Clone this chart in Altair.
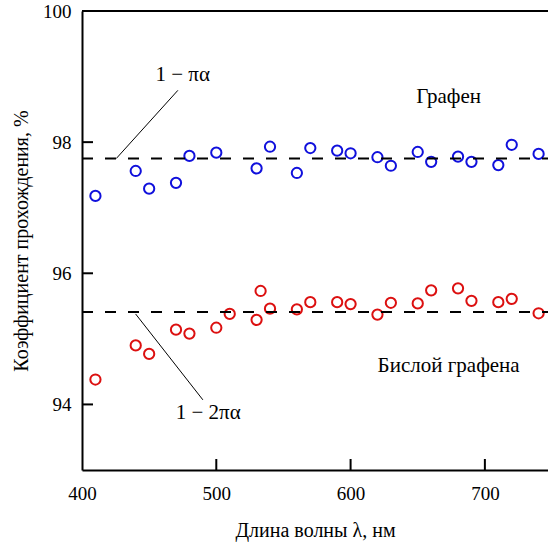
import altair as alt
import pandas as pd

# --- data ---
blue_x = [410, 440, 450, 470, 480, 500, 530, 540, 560, 570, 590, 600, 620, 630, 650, 660, 680, 690, 710, 720, 740]
blue_y = [97.18, 97.56, 97.29, 97.38, 97.79, 97.84, 97.60, 97.93, 97.53, 97.91, 97.87, 97.83, 97.77, 97.64,
          97.85, 97.70, 97.78, 97.70, 97.65, 97.96, 97.82]
red_x = [410, 440, 450, 470, 480, 500, 510, 530, 533, 540, 560, 570, 590, 600, 620, 630, 650, 660, 680, 690,
         710, 720, 740]
red_y = [94.38, 94.90, 94.77, 95.14, 95.08, 95.17, 95.38, 95.29, 95.73, 95.46, 95.45, 95.56, 95.56, 95.53,
         95.37, 95.55, 95.54, 95.74, 95.77, 95.58, 95.56, 95.61, 95.39]
ref_levels = [97.75, 95.41]  # 1 - pi*alpha, 1 - 2*pi*alpha (in %)

leader_x1 = [425.5, 439.9]
leader_y1 = [97.75, 95.38]
leader_x2 = [471.4, 490.0]
leader_y2 = [98.79, 94.07]

label_text = ["1 − πα", "1 − 2πα", "Графен", "Бислой графена"]
label_x = [475, 494, 673, 673]
label_y = [99.02, 93.87, 98.69, 94.59]

x_ticks = [400, 500, 600, 700]
y_ticks = [94, 96, 98, 100]
x_domain = [400, 747]
y_domain = [93, 100]

W, H = 466, 459
FONT = "Liberation Serif, Times New Roman, serif"
BLUE = "#1010dc"
RED = "#dc1010"

xs = alt.Scale(domain=x_domain, nice=False, zero=False)
ys = alt.Scale(domain=y_domain, nice=False, zero=False)

blue_df = pd.DataFrame({"x": blue_x, "y": blue_y})
red_df = pd.DataFrame({"x": red_x, "y": red_y})
lvl_df = pd.DataFrame({"y": ref_levels})
lead_df = pd.DataFrame({"x": leader_x1, "y": leader_y1, "x2": leader_x2, "y2": leader_y2})
lab_df = pd.DataFrame({"t": label_text, "x": label_x, "y": label_y})
xt_df = pd.DataFrame({"x": x_ticks[1:]})
yt_df = pd.DataFrame({"y": y_ticks[:-1]})
one_df = pd.DataFrame({"a": [0]})

x_enc = alt.X("x:Q", scale=xs, axis=alt.Axis(values=x_ticks, format="d", labelFlush=False,
                                             title="Длина волны λ, нм",
                                             labelPadding=14, titlePadding=17))
y_enc = alt.Y("y:Q", scale=ys, axis=alt.Axis(values=y_ticks, format="d", labelFlush=False,
                                             title="Коэффициент прохождения, %",
                                             labelPadding=11, titlePadding=11))

blue_pts = alt.Chart(blue_df).mark_point(shape="circle", filled=False, size=105, strokeWidth=2,
                                         color=BLUE, opacity=1).encode(x=x_enc, y=y_enc)
red_pts = alt.Chart(red_df).mark_point(shape="circle", filled=False, size=105, strokeWidth=2,
                                       color=RED, opacity=1).encode(x="x:Q", y="y:Q")

levels = alt.Chart(lvl_df).mark_rule(color="black", strokeWidth=2, strokeDash=[11, 12]).encode(
    y="y:Q", x=alt.value(0), x2=alt.value(W))

leaders = alt.Chart(lead_df).mark_rule(color="black", strokeWidth=1).encode(
    x="x:Q", y="y:Q", x2="x2:Q", y2="y2:Q")

labels = alt.Chart(lab_df).mark_text(font=FONT, fontSize=21, color="black", align="center",
                                     baseline="middle").encode(x="x:Q", y="y:Q", text="t:N")

xticks = alt.Chart(xt_df).mark_rule(color="black", strokeWidth=2).encode(
    x="x:Q", y=alt.value(H), y2=alt.value(H - 11))
yticks = alt.Chart(yt_df).mark_rule(color="black", strokeWidth=2).encode(
    y="y:Q", x=alt.value(0), x2=alt.value(11))
top = alt.Chart(one_df).mark_rule(color="black", strokeWidth=2).encode(
    y=alt.value(0), x=alt.value(0), x2=alt.value(W))

chart = alt.layer(blue_pts, red_pts, levels, leaders, labels, xticks, yticks, top).properties(
    width=W, height=H,
    autosize=alt.AutoSizeParams(type="none"),
    padding={"left": 82, "top": 11, "right": 0, "bottom": 73},
).configure_view(stroke=None).configure_axis(
    grid=False, tickSize=0, domainColor="black", domainWidth=2,
    labelFont=FONT, labelFontSize=19, labelColor="black",
    titleFont=FONT, titleFontSize=20, titleFontWeight="normal", titleColor="black",
)

chart.save("out.html", embed_options={"renderer": "svg", "actions": False})
